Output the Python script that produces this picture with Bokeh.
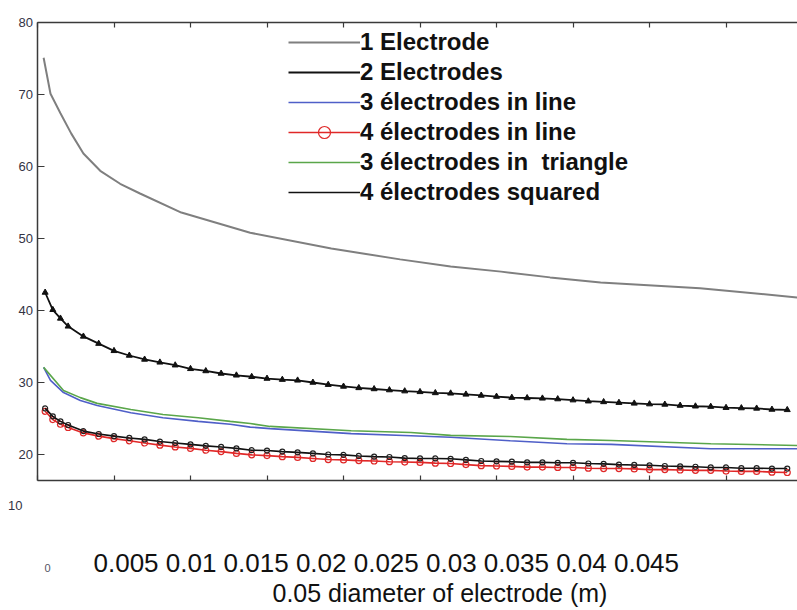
from bokeh.plotting import figure
from bokeh.models import Range1d, LinearAxis, FixedTicker, Legend, LegendItem, Label
from bokeh.embed import file_html
from bokeh.resources import INLINE

# ---------------- data ----------------
x_ticks = [0, 0.005, 0.01, 0.015, 0.02, 0.025, 0.03, 0.035, 0.04, 0.045]
x_tick_labels = ["0", "0.005", "0.01", "0.015", "0.02", "0.025", "0.03", "0.035", "0.04", "0.045"]
x_title = "0.05 diameter  of electrode (m)"
y_ticks = [20, 30, 40, 50, 60, 70, 80]
y_tick_labels = ["20", "30", "40", "50", "60", "70", "80"]
y_extra_label = "10"

series_names = ["1 Electrode", "2 Electrodes", "3 électrodes in line",
                "4 électrodes in line", "3 électrodes in  triangle", "4 électrodes squared"]

# 1 electrode (grey line)
x1 = [0.0004, 0.00085, 0.0015, 0.0022, 0.003, 0.0041, 0.0054, 0.0067, 0.0094, 0.0139,
      0.0192, 0.0237, 0.027, 0.0303, 0.0335, 0.0368, 0.0433, 0.0497]
y1 = [75.1, 70.1, 67.4, 64.6, 61.8, 59.4, 57.6, 56.25, 53.6, 50.8,
      48.6, 47.1, 46.1, 45.4, 44.6, 43.9, 43.1, 41.8]

# grid used by the marker series
xm = [0.0005, 0.001, 0.0015, 0.002, 0.003, 0.004, 0.005, 0.006, 0.007, 0.008, 0.009,
      0.010, 0.011, 0.012, 0.013, 0.014, 0.015, 0.016, 0.017, 0.018, 0.019,
      0.020, 0.021, 0.022, 0.023, 0.024, 0.025, 0.026, 0.027, 0.028, 0.029,
      0.030, 0.031, 0.032, 0.033, 0.034, 0.035, 0.036, 0.037, 0.038, 0.039,
      0.040, 0.041, 0.042, 0.043, 0.044, 0.045, 0.046, 0.047, 0.048, 0.049]

# 2 electrodes (black, triangles)
y2 = [42.5, 40.1, 38.9, 37.8, 36.4, 35.4, 34.4, 33.75, 33.2, 32.8, 32.4,
      31.9, 31.6, 31.25, 31.0, 30.8, 30.55, 30.4, 30.3, 30.0, 29.7,
      29.45, 29.25, 29.1, 28.95, 28.8, 28.7, 28.55, 28.5, 28.35, 28.2,
      28.05, 27.9, 27.85, 27.8, 27.7, 27.55, 27.4, 27.3, 27.2, 27.1,
      27.0, 26.95, 26.8, 26.7, 26.65, 26.5, 26.45, 26.4, 26.25, 26.2]

# 3 electrodes in line (blue)
x3 = [0.0004, 0.00085, 0.0017, 0.0028, 0.0039, 0.0061, 0.0082, 0.0105, 0.0126, 0.0139,
      0.0152, 0.0205, 0.0244, 0.027, 0.0309, 0.0346, 0.0375, 0.044, 0.0497]
y3 = [32.1, 30.3, 28.6, 27.5, 26.8, 25.8, 25.1, 24.6, 24.2, 23.8,
      23.6, 22.9, 22.6, 22.4, 21.9, 21.5, 21.4, 20.8, 20.8]

# 4 electrodes in line (red, circles)
y4 = [26.0, 24.85, 24.2, 23.75, 23.0, 22.55, 22.2, 21.9, 21.6, 21.3, 21.05,
      20.85, 20.6, 20.4, 20.15, 19.95, 19.85, 19.7, 19.6, 19.45, 19.3,
      19.25, 19.15, 19.1, 19.0, 18.95, 18.9, 18.8, 18.75, 18.6, 18.45,
      18.4, 18.35, 18.25, 18.25, 18.2, 18.2, 18.1, 18.05, 18.05, 18.0,
      17.9, 17.9, 17.85, 17.8, 17.8, 17.7, 17.65, 17.65, 17.55, 17.5]

# 3 electrodes in triangle (green)
x5 = [0.0004, 0.0017, 0.0028, 0.0039, 0.0061, 0.0082, 0.0105, 0.0126, 0.0139, 0.0152,
      0.0205, 0.0244, 0.027, 0.0309, 0.0346, 0.0375, 0.044, 0.0497]
y5 = [32.1, 28.9, 27.9, 27.1, 26.25, 25.55, 25.1, 24.6, 24.3, 23.9,
      23.3, 23.05, 22.65, 22.5, 22.1, 21.95, 21.5, 21.25]

# 4 electrodes squared (black, open circles)
y6 = [26.4, 25.3, 24.6, 24.1, 23.25, 22.85, 22.55, 22.3, 22.1, 21.8, 21.6,
      21.4, 21.2, 21.05, 20.85, 20.6, 20.55, 20.4, 20.3, 20.15, 20.0,
      19.95, 19.8, 19.7, 19.65, 19.5, 19.45, 19.45, 19.4, 19.25, 19.1,
      19.05, 19.0, 18.9, 18.9, 18.85, 18.85, 18.75, 18.7, 18.6, 18.55,
      18.5, 18.4, 18.35, 18.3, 18.2, 18.2, 18.1, 18.1, 18.05, 18.05]

# ---------------- figure ----------------
FONT = "Liberation Sans"
X_END = 0.04967          # right edge of the drawing
Y_FLOOR = 16.39          # level of the bottom axis line
p = figure(width=797, height=610, output_backend="svg", toolbar_location=None,
           x_range=Range1d(-0.002418, X_END), y_range=Range1d(-1.667, 83.056),
           x_axis_location=None, y_axis_location=None, min_border=0,
           min_border_left=0, min_border_right=0, min_border_top=0, min_border_bottom=0)
p.outline_line_color = None
p.xgrid.visible = False
p.ygrid.visible = False
p.background_fill_color = "white"
p.border_fill_color = "white"

ax_color = "#3a3a3a"

def style_axis(ax, tick_in):
    ax.axis_line_color = ax_color
    ax.axis_line_width = 1.5
    ax.major_tick_in = tick_in
    ax.major_tick_out = 0
    ax.minor_tick_line_color = None
    ax.major_tick_line_color = ax_color
    ax.major_tick_line_width = 1.2
    ax.major_label_standoff = 0

yax = LinearAxis(ticker=FixedTicker(ticks=y_ticks), fixed_location=0, bounds=(Y_FLOOR, 80))
style_axis(yax, 7)
yax.major_label_overrides = {t: "" for t in y_ticks}
p.add_layout(yax, "left")

xb = LinearAxis(ticker=FixedTicker(ticks=x_ticks), fixed_location=Y_FLOOR, bounds=(0, X_END))
style_axis(xb, 5)
xb.major_label_overrides = {t: "" for t in x_ticks}
p.add_layout(xb, "below")

xt = LinearAxis(ticker=FixedTicker(ticks=x_ticks), fixed_location=80, bounds=(0, X_END))
style_axis(xt, 5)
xt.major_label_overrides = {t: "" for t in x_ticks}
p.add_layout(xt, "above")

# y tick labels
p.text(x=[-0.0003] * len(y_ticks), y=y_ticks, text=y_tick_labels,
       text_align="right", text_baseline="middle", text_font={"value": FONT},
       text_font_size={"value": "13px"}, text_color="#333344")

# ---------------- series ----------------
r1 = p.line(x1, y1, line_color="#7f7f7f", line_width=2)
r2 = p.line(xm, y2, line_color="#111111", line_width=1.8)
m2 = p.scatter(xm, y2, marker="triangle", size=6, fill_color="#111111", line_color="#111111")
r3 = p.line(x3, y3, line_color="#4f5fc8", line_width=1.6)
r5 = p.line(x5, y5, line_color="#5aa64a", line_width=1.6)
r4 = p.line(xm, y4, line_color="#e02828", line_width=1.6)
m4 = p.scatter(xm, y4, marker="circle", size=6, fill_color=None, line_color="#e02828", line_width=1.2)
r6 = p.line(xm, y6, line_color="#111111", line_width=1.6)
m6 = p.scatter(xm, y6, marker="circle", size=5, fill_color=None, line_color="#222222", line_width=1.2)

legend = Legend(items=[
    LegendItem(label=series_names[0], renderers=[r1]),
    LegendItem(label=series_names[1], renderers=[r2]),
    LegendItem(label=series_names[2], renderers=[r3]),
    LegendItem(label=series_names[3], renderers=[r4, m4]),
    LegendItem(label=series_names[4], renderers=[r5]),
    LegendItem(label=series_names[5], renderers=[r6]),
], location=(288, 403))
legend.border_line_color = None
legend.background_fill_alpha = 0
legend.padding = 0
legend.margin = 0
legend.spacing = 0
legend.glyph_width = 72
legend.glyph_height = 30
legend.label_height = 30
legend.label_standoff = 0
legend.label_text_font = FONT
legend.label_text_font_size = "24px"
legend.label_text_font_style = "bold"
legend.label_text_color = "#111111"
p.add_layout(legend)

# ---------------- texts below the axes ----------------
p.add_layout(Label(x=-0.00098, y=12.9, text=y_extra_label, text_align="right",
                   text_baseline="middle", text_font=FONT, text_font_size="13px",
                   text_color="#333344"))
p.add_layout(Label(x=0.00065, y=4.2, text=x_tick_labels[0], text_align="center",
                   text_baseline="middle", text_font=FONT, text_font_size="11px",
                   text_color="#555566"))
p.add_layout(Label(x=0.00366, y=4.9, text=" ".join(x_tick_labels[1:]), text_align="left",
                   text_baseline="middle", text_font=FONT, text_font_size="26px",
                   text_color="#111111"))
p.add_layout(Label(x=0.01536, y=0.75, text=x_title, text_align="left",
                   text_baseline="middle", text_font=FONT, text_font_size="25px",
                   text_color="#111111"))

open("out.html", "w").write(file_html(p, INLINE))
